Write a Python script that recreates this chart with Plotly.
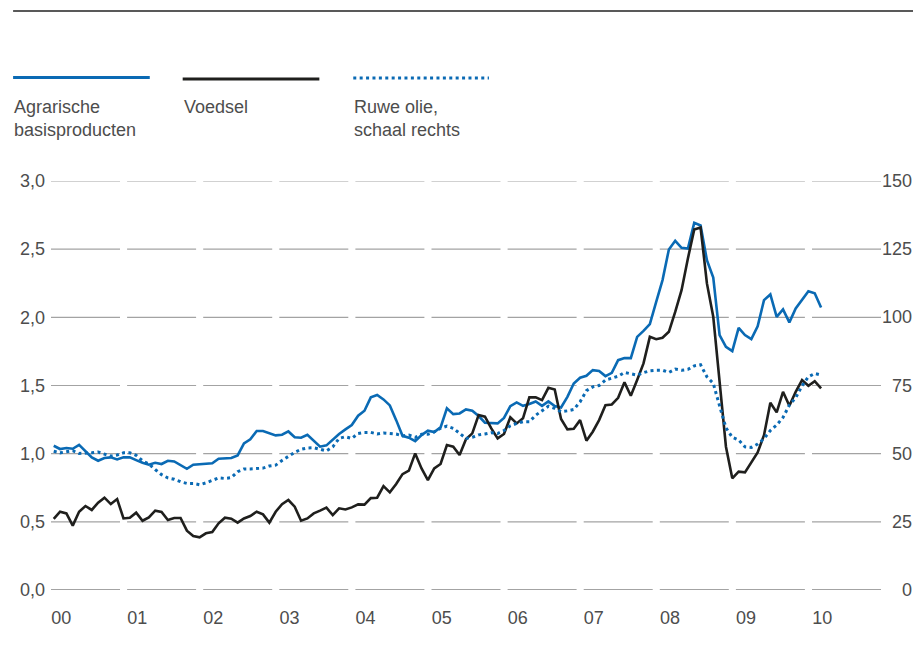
import plotly.graph_objects as go

# ---------------- data (monthly, Jan 2000 .. Feb 2010) ----------------
agrarische = [
    1.058, 1.034, 1.041, 1.036, 1.065, 1.021, 0.973, 0.948, 0.968, 0.973, 0.958, 0.973,
    0.973, 0.953, 0.933, 0.919, 0.933, 0.924, 0.948, 0.943, 0.914, 0.889, 0.919, 0.924,
    0.929, 0.929, 0.963, 0.963, 0.968, 0.987, 1.075, 1.105, 1.166, 1.166, 1.149, 1.134,
    1.139, 1.163, 1.120, 1.117, 1.139, 1.092, 1.051, 1.061, 1.105, 1.144, 1.178, 1.210,
    1.278, 1.315, 1.413, 1.430, 1.398, 1.354, 1.246, 1.131, 1.117, 1.092, 1.136, 1.168,
    1.158, 1.193, 1.332, 1.290, 1.295, 1.325, 1.315, 1.276, 1.227, 1.222, 1.222, 1.262,
    1.349, 1.376, 1.351, 1.364, 1.383, 1.351, 1.383, 1.349, 1.339, 1.417, 1.515, 1.557,
    1.571, 1.613, 1.606, 1.569, 1.593, 1.686, 1.701, 1.701, 1.857, 1.901, 1.950, 2.114,
    2.273, 2.498, 2.561, 2.510, 2.505, 2.693, 2.674, 2.419, 2.292, 1.870, 1.784, 1.752,
    1.923, 1.870, 1.840, 1.935, 2.126, 2.168, 2.004, 2.058, 1.963, 2.065, 2.126, 2.192,
    2.177, 2.072,
]
voedsel = [
    0.521, 0.574, 0.562, 0.472, 0.574, 0.616, 0.587, 0.640, 0.677, 0.630, 0.667, 0.525,
    0.530, 0.567, 0.508, 0.533, 0.582, 0.572, 0.513, 0.528, 0.528, 0.435, 0.396, 0.386,
    0.416, 0.425, 0.489, 0.530, 0.523, 0.494, 0.525, 0.543, 0.574, 0.555, 0.494, 0.574,
    0.630, 0.660, 0.611, 0.508, 0.525, 0.562, 0.582, 0.604, 0.550, 0.599, 0.591, 0.606,
    0.628, 0.626, 0.674, 0.677, 0.762, 0.716, 0.777, 0.850, 0.875, 1.002, 0.892, 0.806,
    0.892, 0.924, 1.063, 1.051, 0.990, 1.105, 1.149, 1.283, 1.271, 1.185, 1.112, 1.144,
    1.266, 1.222, 1.259, 1.413, 1.413, 1.393, 1.483, 1.471, 1.254, 1.178, 1.183, 1.246,
    1.095, 1.161, 1.246, 1.356, 1.361, 1.410, 1.523, 1.425, 1.540, 1.662, 1.857, 1.840,
    1.850, 1.894, 2.040, 2.199, 2.432, 2.644, 2.659, 2.249, 2.004, 1.540, 1.051, 0.819,
    0.868, 0.863, 0.933, 1.009, 1.136, 1.373, 1.303, 1.454, 1.351, 1.454, 1.540, 1.498,
    1.532, 1.479,
]
ruwe_olie = [
    50.9, 50.3, 50.7, 51.1, 50.1, 50.1, 50.3, 50.6, 49.9, 49.1, 49.5, 50.3,
    50.3, 49.4, 47.4, 46.2, 44.2, 42.3, 41.1, 40.6, 39.7, 39.1, 39.1, 38.6,
    39.3, 40.1, 41.1, 40.9, 41.2, 43.4, 44.4, 44.4, 44.6, 44.7, 45.5, 45.8,
    47.5, 49.1, 50.5, 51.6, 52.1, 52.2, 51.6, 51.0, 52.5, 55.6, 56.2, 55.6,
    57.4, 57.8, 57.8, 57.2, 57.6, 57.4, 57.2, 56.5, 56.8, 56.0, 57.1, 57.1,
    58.0, 59.3, 60.1, 59.3, 57.4, 55.6, 56.0, 56.9, 57.2, 57.7, 57.4, 58.5,
    60.2, 61.1, 61.7, 61.7, 64.1, 65.6, 67.4, 66.6, 65.4, 65.7, 66.2, 69.0,
    73.1, 74.5, 75.0, 77.0, 77.6, 78.4, 79.8, 79.2, 78.8, 79.7, 80.4, 80.6,
    80.6, 79.8, 81.0, 80.6, 80.9, 82.2, 82.6, 78.2, 75.8, 67.5, 59.5, 56.0,
    55.0, 52.5, 52.3, 53.5, 55.5, 58.5, 60.5, 63.3, 67.8, 70.5, 74.9, 78.2,
    79.4, 78.8,
]
months = list(range(len(agrarische)))  # month index since Jan 2000

years = list(range(11))                                  # 2000 .. 2010
year_labels = ["00", "01", "02", "03", "04", "05", "06", "07", "08", "09", "10"]
left_ticks = [0.0, 0.5, 1.0, 1.5, 2.0, 2.5, 3.0]
right_ticks = [0, 25, 50, 75, 100, 125, 150]

legend_names = ["Agrarische<br>basisproducten", "Voedsel", "Ruwe olie,<br>schaal rechts"]

# ---------------- style ----------------
BLUE = "#0a6ab4"
BLACK = "#1f1f1d"
GRID = "#a3a3a3"
TEXT = "#4d4d4d"
FONT = "Liberation Sans, Arial, sans-serif"
FS = 18

OFF = 8                      # page body margin (each side)
W, H = 921 - 2 * OFF, 649 - 2 * OFF
L, R, T, B = 49 - OFF, 881 - OFF, 181 - OFF, 590 - OFF  # plot area in figure pixels


def px(x):
    """target-page x pixel -> paper coordinate"""
    return (x - OFF - L) / (R - L)


def py(y):
    """target-page y pixel -> paper coordinate"""
    return (B - (y - OFF)) / (B - T)


fig = go.Figure()
fig.add_trace(go.Scatter(x=months, y=agrarische, mode="lines",
                         line=dict(color=BLUE, width=2.6), name="Agrarische basisproducten"))
fig.add_trace(go.Scatter(x=months, y=voedsel, mode="lines",
                         line=dict(color=BLACK, width=2.6), name="Voedsel"))
fig.add_trace(go.Scatter(x=months, y=ruwe_olie, mode="lines", yaxis="y2",
                         line=dict(color=BLUE, width=3, dash="3px,3.4px"), name="Ruwe olie"))

shapes = []
# segmented gridlines (one segment per year)
for v in left_ticks:
    for k in years:
        shapes.append(dict(type="line", xref="x", yref="y",
                           x0=12 * k - 0.43, x1=12 * k + 10.45, y0=v, y1=v,
                           line=dict(color=GRID, width=1.8 if v == 0 else 1.1),
                           layer="below"))
# top rule
shapes.append(dict(type="line", xref="paper", yref="paper", x0=px(11), x1=px(921),
                   y0=py(11), y1=py(11), line=dict(color="#222222", width=1.3)))
# legend samples
shapes.append(dict(type="line", xref="paper", yref="paper", x0=px(11), x1=px(148),
                   y0=py(77.5), y1=py(77.5), line=dict(color=BLUE, width=3.2)))
shapes.append(dict(type="line", xref="paper", yref="paper", x0=px(181), x1=px(318),
                   y0=py(79), y1=py(79), line=dict(color=BLACK, width=3)))
shapes.append(dict(type="line", xref="paper", yref="paper", x0=px(352), x1=px(488),
                   y0=py(78), y1=py(78), line=dict(color=BLUE, width=3, dash="3px,3.4px")))

annotations = []
for name, xl in zip(legend_names, [11, 181, 352]):
    annotations.append(dict(text=name, xref="paper", yref="paper", x=px(xl), y=py(96),
                            xanchor="left", yanchor="top", align="left", showarrow=False,
                            font=dict(family=FONT, size=FS, color=TEXT), borderpad=0))
for v in right_ticks:
    annotations.append(dict(text=str(v), xref="paper", yref="y2", x=px(913), y=v,
                            xanchor="right", yanchor="middle", showarrow=False,
                            font=dict(family=FONT, size=FS, color=TEXT), borderpad=0))

fig.update_layout(
    width=W, height=H,
    margin=dict(l=L, r=W - R, t=T, b=H - B, pad=0),
    paper_bgcolor="white", plot_bgcolor="white",
    separators=",.",
    showlegend=False,
    font=dict(family=FONT, size=FS, color=TEXT),
    xaxis=dict(range=[-0.43, 130.45], tickvals=[12 * k + 1.17 for k in years],
               ticktext=year_labels, showgrid=False, zeroline=False, showline=False,
               ticks="", ticklabelstandoff=15, fixedrange=True),
    yaxis=dict(range=[0, 3], tickvals=left_ticks, tickformat=".1f", showgrid=False,
               zeroline=False, showline=False, ticks="", ticklabelstandoff=5),
    yaxis2=dict(range=[0, 150], overlaying="y", side="right", showticklabels=False,
                showgrid=False, zeroline=False, showline=False),
    shapes=shapes,
    annotations=annotations,
)

fig.write_html("out.html")
